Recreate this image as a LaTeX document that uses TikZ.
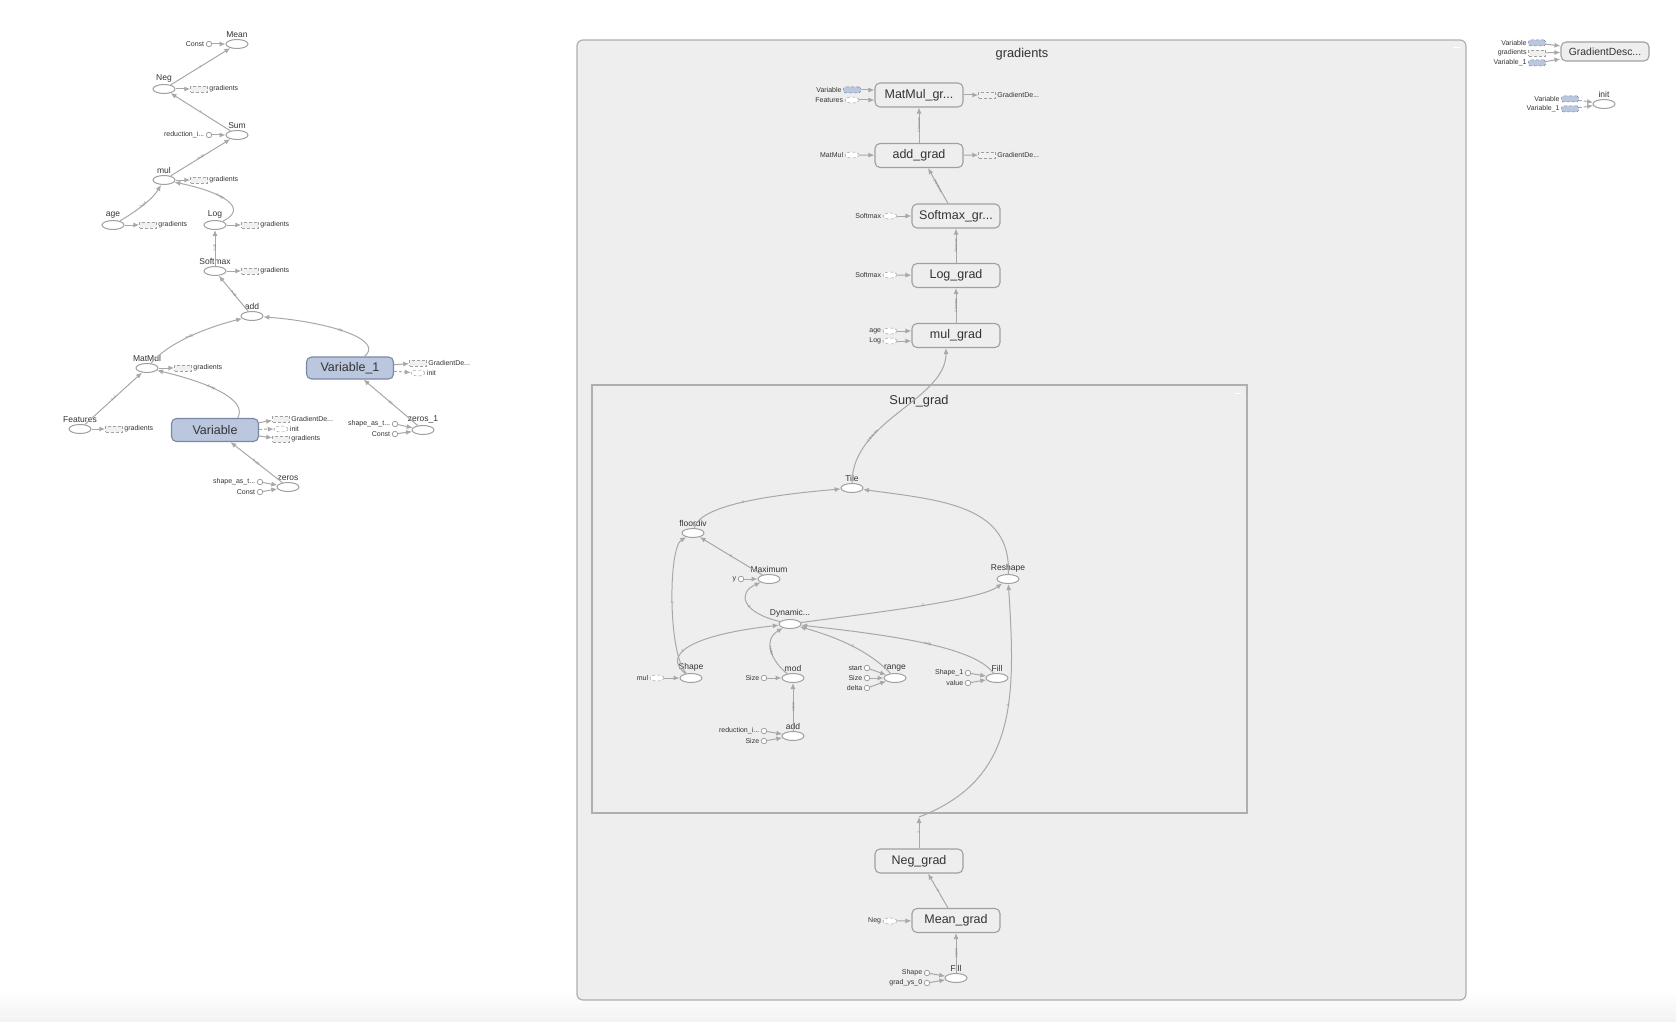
\documentclass[tikz,border=0pt]{standalone}
\usepackage{fontspec}
\setmainfont{Liberation Sans}
\usetikzlibrary{arrows.meta,shapes.geometric}
\definecolor{edgegray}{RGB}{168,168,168}
\definecolor{opgray}{RGB}{160,160,160}
\definecolor{boxfill}{RGB}{238,238,238}
\definecolor{boxline}{RGB}{175,175,175}
\definecolor{varfill}{RGB}{186,199,222}
\definecolor{varline}{RGB}{122,136,163}
\definecolor{txt}{RGB}{51,51,51}
\newcommand\fsz[1]{\fontsize{#1}{#1}\selectfont}
\tikzset{>={Latex[width=5pt,length=6pt]}}
\tikzset{
  op/.style={ellipse, draw=opgray, fill=white, line width=1pt, minimum width=22pt, minimum height=9pt, inner sep=0pt},
  cst/.style={circle, draw=opgray, fill=white, line width=0.8pt, minimum size=5.5pt, inner sep=0pt},
  metanode/.style={rectangle, rounded corners=5pt, draw=opgray, fill=boxfill, line width=1.1pt, minimum width=88pt, minimum height=24pt, inner sep=0pt, text=txt, font=\fsz{12.5}},
  varnode/.style={metanode, fill=varfill, draw=varline, minimum width=87pt, minimum height=23pt},
  refbox/.style={rectangle, draw=opgray, densely dashed, line width=0.5pt, fill=black!6, minimum width=17pt, minimum height=6pt, inner sep=0pt},
  refop/.style={refbox, ellipse, fill=white, minimum width=14pt},
  refvar/.style={refbox, rounded corners=1.5pt, fill=varfill, draw=varline},
  lbl/.style={text=txt, font=\fsz{8.5}, inner sep=1.5pt},
  sml/.style={text=txt, font=\fsz{7}, inner sep=1.5pt},
  conn/.style={draw=edgegray, line width=1pt, ->},
  ctrl/.style={conn, densely dashed},
  elab/.style={font=\fsz{3.5}, text=black!50, sloped, inner sep=0.5pt},
  grp/.style={draw=boxline, fill=boxfill, line width=1.2pt},
  grptitle/.style={text=txt, font=\fsz{12.8}}
}
\begin{document}
\begin{tikzpicture}[x=1pt, y=-1pt]

  %% <spacing>
  \useasboundingbox (0,0) rectangle (1676,1022);
  \shade[top color=white, bottom color=black!5] (0,990) rectangle (1676,1022);
  % </spacing>

  %% groups
  \draw[grp, rounded corners=6pt] (577,40) rectangle (1466,1000);
  \node[grptitle] (tGradients) at (1022,54) {gradients};
  \draw[white, line width=1pt] (1453,48) -- (1460,48);
  \draw[grp] (592,385) rectangle (1247,813);
  \node[grptitle] (tSumGrad) at (919,401) {Sum\_grad};
  \draw[white, line width=1pt] (1235,393) -- (1241,393);

  %% main graph
  \node[op, label={[lbl]above:Mean}] (Mean) at (237,44) {};
  \node[cst, label={[sml]left:Const}] (cMean) at (209,44) {};
  \node[op, label={[lbl]above:Neg}] (Neg) at (164,89) {};
  \node[refbox, label={[sml]right:gradients}] (rNeg) at (199,89) {};
  \node[op, label={[lbl]above:Sum}] (Sum) at (237,135) {};
  \node[cst, label={[sml]left:reduction\_i...}] (cSum) at (209,135) {};
  \node[op, label={[lbl]above:mul}] (mul) at (164,180) {};
  \node[refbox, label={[sml]right:gradients}] (rmul) at (199,180) {};
  \node[op, label={[lbl]above:age}] (age) at (113,225) {};
  \node[refbox, label={[sml]right:gradients}] (rage) at (148,225) {};
  \node[op, label={[lbl]above:Log}] (Log) at (215,225) {};
  \node[refbox, label={[sml]right:gradients}] (rLog) at (250,225) {};
  \node[op, label={[lbl]above:Softmax}] (Softmax) at (215,271) {};
  \node[refbox, label={[sml]right:gradients}] (rSoftmax) at (250,271) {};
  \node[op, label={[lbl]above:add}] (add) at (252,316) {};
  \node[op, label={[lbl]above:MatMul}] (MatMul) at (147,368) {};
  \node[refbox, label={[sml]right:gradients}] (rMatMul) at (183,368) {};
  \node[op, label={[lbl]above:Features}] (Features) at (80,429) {};
  \node[refbox, label={[sml]right:gradients}] (rFeatures) at (114,429) {};
  \node[varnode] (Variable) at (215,430) {Variable};
  \node[refbox, label={[sml]right:GradientDe...}] (rVarGD) at (281,419) {};
  \node[refop, label={[sml]right:init}] (rVarInit) at (281,429) {};
  \node[refbox, label={[sml]right:gradients}] (rVarGr) at (281,439) {};
  \node[varnode, minimum height=22pt] (Variable1) at (350,368) {Variable\_1};
  \node[refbox, label={[sml]right:GradientDe...}] (rVar1GD) at (418,363) {};
  \node[refop, label={[sml]right:init}] (rVar1Init) at (418,373) {};
  \node[op, label={[lbl]above:zeros}] (zeros) at (288,487) {};
  \node[cst, label={[sml]left:shape\_as\_t...}] (cZs) at (260,482) {};
  \node[cst, label={[sml]left:Const}] (cZc) at (260,492) {};
  \node[op, label={[lbl]above:zeros\_1}] (zeros1) at (423,430) {};
  \node[cst, label={[sml]left:shape\_as\_t...}] (cZ1s) at (395,424) {};
  \node[cst, label={[sml]left:Const}] (cZ1c) at (395,434) {};

  \draw[conn] (cMean) -- (Mean); % Const->Mean
  \draw[conn] (Neg) -- (Mean) node[elab, midway]{?}; % Neg->Mean
  \draw[conn] (Neg) -- (rNeg);
  \draw[conn] (Sum) -- (Neg) node[elab, midway]{?}; % Sum->Neg
  \draw[conn] (cSum) -- (Sum);
  \draw[conn] (mul) -- (Sum) node[elab, midway]{?×20}; % mul->Sum
  \draw[conn] (mul) -- (rmul);
  \draw[conn] (age) .. controls (135,212) and (152,200) .. (mul) node[elab, pos=0.5]{?×20}; % age->mul
  \draw[conn] (age) -- (rage);
  \draw[conn] (Log) .. controls (250,208) and (222,192) .. (mul) node[elab, pos=0.6]{?×20}; % Log->mul
  \draw[conn] (Log) -- (rLog);
  \draw[conn] (Softmax) -- (Log) node[elab, midway]{?×20}; % Softmax->Log
  \draw[conn] (Softmax) -- (rSoftmax);
  \draw[conn] (add) -- (Softmax) node[elab, midway]{?×20}; % add->Softmax
  \draw[conn] (MatMul) .. controls (168,343) and (205,328) .. (add) node[elab, pos=0.5]{?×20}; % MatMul->add
  \draw[conn] (MatMul) -- (rMatMul);
  \draw[conn] (Variable1) .. controls (385,340) and (330,322) .. (add) node[elab, pos=0.55]{20}; % Variable_1->add
  \draw[conn] (Features) -- (MatMul) node[elab, midway]{?×2}; % Features->MatMul
  \draw[conn] (Features) -- (rFeatures);
  \draw[conn] (Variable.28) .. controls (248,400) and (210,383) .. (MatMul) node[elab, pos=0.6]{2×20}; % Variable->MatMul
  \draw[conn] (Variable) -- (rVarGD);
  \draw[ctrl] (Variable) -- (rVarInit);
  \draw[conn] (Variable) -- (rVarGr);
  \draw[conn] (Variable1) -- (rVar1GD);
  \draw[ctrl] (Variable1) -- (rVar1Init);
  \draw[conn] (zeros) -- (Variable) node[elab, midway]{2×20}; % zeros->Variable
  \draw[conn] (cZs) -- (zeros);
  \draw[conn] (cZc) -- (zeros);
  \draw[conn] (zeros1) -- (Variable1) node[elab, midway]{20}; % zeros_1->Variable_1
  \draw[conn] (cZ1s) -- (zeros1);
  \draw[conn] (cZ1c) -- (zeros1);

  %% train / init
  \node[metanode, minimum height=19pt, font=\fsz{10.4}] (GD) at (1605,51.5) {GradientDesc...};
  \node[refvar, label={[sml]left:Variable}] (gdVar) at (1537,43) {};
  \node[refbox, label={[sml]left:gradients}] (gdGr) at (1537,53) {};
  \node[refvar, label={[sml]left:Variable\_1}] (gdVar1) at (1537,63) {};
  \node[op, label={[lbl]above:init}] (init) at (1604,104) {};
  \node[refvar, label={[sml]left:Variable}] (inVar) at (1570,99) {};
  \node[refvar, label={[sml]left:Variable\_1}] (inVar1) at (1570,109) {};

  \draw[conn] (gdVar) -- (GD);
  \draw[conn] (gdGr) -- (GD);
  \draw[conn] (gdVar1) -- (GD);
  \draw[ctrl] (inVar) -- (init);
  \draw[ctrl] (inVar1) -- (init);

  %% gradients
  \node[metanode] (mmg) at (919,95) {MatMul\_gr...};
  \node[refvar, label={[sml]left:Variable}] (mmgVar) at (852,90) {};
  \node[refop, label={[sml]left:Features}] (mmgFeat) at (852,100) {};
  \node[refbox, label={[sml]right:GradientDe...}] (mmgOut) at (987,95) {};
  \node[metanode] (addg) at (919,155.5) {add\_grad};
  \node[refop, label={[sml]left:MatMul}] (addgIn) at (852,155) {};
  \node[refbox, label={[sml]right:GradientDe...}] (addgOut) at (987,155) {};
  \node[metanode] (smg) at (956,216) {Softmax\_gr...};
  \node[refop, label={[sml]left:Softmax}] (smgIn) at (890,216) {};
  \node[metanode] (logg) at (956,275.5) {Log\_grad};
  \node[refop, label={[sml]left:Softmax}] (loggIn) at (890,275) {};
  \node[metanode] (mulg) at (956,335.5) {mul\_grad};
  \node[refop, label={[sml]left:age}] (mulgAge) at (890,331) {};
  \node[refop, label={[sml]left:Log}] (mulgLog) at (890,341) {};
  \node[metanode] (Neggrad) at (919,861) {Neg\_grad};
  \node[metanode] (Meangrad) at (956,920.5) {Mean\_grad};
  \node[refop, label={[sml]left:Neg}] (mgNeg) at (890,921) {};
  \node[op, label={[lbl]above:Fill}] (mgFill) at (956,978) {};
  \node[cst, label={[sml]left:Shape}] (cFShape) at (927,973) {};
  \node[cst, label={[sml]left:grad\_ys\_0}] (cFys) at (927,983) {};

  \draw[conn] (mmgVar) -- (mmgVar -| mmg.west);
  \draw[conn] (mmgFeat) -- (mmgFeat -| mmg.west);
  \draw[conn] (mmg) -- (mmgOut);
  \draw[conn] (addg) -- (mmg) node[elab, midway]{2 tensors}; % add_grad->MatMul_grad
  \draw[conn] (addgIn) -- (addg);
  \draw[conn] (addg) -- (addgOut);
  \draw[conn] ([xshift=-8pt]smg.north) -- ([xshift=9pt]addg.south) node[elab, midway]{2 tensors}; % Softmax_grad->add_grad
  \draw[conn] (smgIn) -- (smg);
  \draw[conn] (logg) -- (smg) node[elab, midway]{2 tensors}; % Log_grad->Softmax_grad
  \draw[conn] (loggIn) -- (logg);
  \draw[conn] (mulg) -- (logg) node[elab, midway]{2 tensors}; % mul_grad->Log_grad
  \draw[conn] (mulgAge) -- (mulgAge -| mulg.west);
  \draw[conn] (mulgLog) -- (mulgLog -| mulg.west);
  \draw[conn] ([xshift=-8pt]Meangrad.north) -- ([xshift=9pt]Neggrad.south) node[elab, midway]{?}; % Mean_grad->Neg_grad
  \draw[conn] (mgNeg) -- (Meangrad);
  \draw[conn] (mgFill) -- (Meangrad) node[elab, midway]{scalar}; % Fill->Mean_grad
  \draw[conn] (cFShape) -- (mgFill);
  \draw[conn] (cFys) -- (mgFill);

  %% Sum_grad
  \node[op, label={[lbl]above:Tile}] (Tile) at (852,488) {};
  \node[op, label={[lbl]above:floordiv}] (floordiv) at (693,533) {};
  \node[op, label={[lbl]above:Maximum}] (Maximum) at (769,579) {};
  \node[cst, label={[sml]left:y}] (cY) at (741,579) {};
  \node[op, label={[lbl]above:Reshape}] (Reshape) at (1008,579) {};
  \node[op, label={[lbl]above:Dynamic...}] (Dynamic) at (790,624) {};
  \node[op, label={[lbl]above:Shape}] (Shape) at (691,678) {};
  \node[refop, label={[sml]left:mul}] (sgMul) at (657,678) {};
  \node[op, label={[lbl]above:mod}] (mod) at (793,678) {};
  \node[cst, label={[sml]left:Size}] (cModSize) at (764,678) {};
  \node[op, label={[lbl]above:add}] (sgadd) at (793,736) {};
  \node[cst, label={[sml]left:reduction\_i...}] (cAddRed) at (764,731) {};
  \node[cst, label={[sml]left:Size}] (cAddSize) at (764,741) {};
  \node[op, label={[lbl]above:range}] (range) at (895,678) {};
  \node[cst, label={[sml]left:start}] (cStart) at (867,668) {};
  \node[cst, label={[sml]left:Size}] (cRSize) at (867,678) {};
  \node[cst, label={[sml]left:delta}] (cDelta) at (867,688) {};
  \node[op, label={[lbl]above:Fill}] (Fill) at (997,678) {};
  \node[cst, label={[sml]left:Shape\_1}] (cShape1) at (968,673) {};
  \node[cst, label={[sml]left:value}] (cValue) at (968,683) {};
  \coordinate (sgIn) at (919,817);

  \draw[conn] (Tile.north) .. controls (852,420) and (946,400) .. ([xshift=-10pt]mulg.south) node[elab, pos=0.3]{2 tensors}; % Tile->mul_grad
  \draw[conn] (floordiv) .. controls (700,505) and (770,495) .. (Tile) node[elab, pos=0.5]{2}; % floordiv->Tile
  \draw[conn] (Reshape) .. controls (1012,505) and (940,500) .. (Tile); % Reshape->Tile
  \draw[conn] (Maximum) -- (floordiv) node[elab, midway]{2}; % Maximum->floordiv
  \draw[conn] (cY) -- (Maximum);
  \draw[conn] (Dynamic) .. controls (740,612) and (738,592) .. (Maximum) node[elab, pos=0.4]{2}; % Dynamic->Maximum
  \draw[conn] (Dynamic) .. controls (880,612) and (980,600) .. (Reshape) node[elab, pos=0.5]{2}; % Dynamic->Reshape
  \draw[conn] (Shape) .. controls (662,655) and (690,635) .. (Dynamic) node[elab, pos=0.4]{2}; % Shape->Dynamic
  \draw[conn] (Shape) .. controls (668,655) and (668,548) .. (floordiv) node[elab, pos=0.5]{2}; % Shape->floordiv
  \draw[conn] (sgMul) -- (Shape);
  \draw[conn] (mod) .. controls (772,662) and (762,640) .. (Dynamic) node[elab, pos=0.5]{scalar}; % mod->Dynamic
  \draw[conn] (cModSize) -- (mod);
  \draw[conn] (sgadd) -- (mod) node[elab, midway]{scalar}; % add->mod
  \draw[conn] (cAddRed) -- (sgadd);
  \draw[conn] (cAddSize) -- (sgadd);
  \draw[conn] (range) .. controls (870,652) and (840,638) .. (Dynamic) node[elab, pos=0.5]{?}; % range->Dynamic
  \draw[conn] (cStart) -- (range);
  \draw[conn] (cRSize) -- (range);
  \draw[conn] (cDelta) -- (range);
  \draw[conn] (Fill) .. controls (975,648) and (900,636) .. (Dynamic) node[elab, pos=0.5]{?×20}; % Fill->Dynamic
  \draw[conn] (cShape1) -- (Fill);
  \draw[conn] (cValue) -- (Fill);
  \draw[conn] (Neggrad) -- (sgIn) node[elab, midway]{?}; % Neg_grad->Sum_grad
  \draw[conn] (sgIn) .. controls (1016,780) and (1016,700) .. (Reshape) node[elab, pos=0.6]{?}; % ->Reshape

\end{tikzpicture}
\end{document}
